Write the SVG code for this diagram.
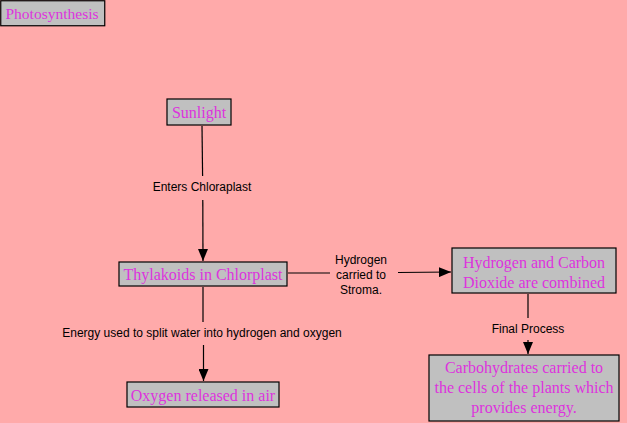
<svg xmlns="http://www.w3.org/2000/svg" width="627" height="423" viewBox="0 0 627 423">
<defs>
<marker id="ah" viewBox="0 0 12 10" refX="12" refY="5" markerWidth="12" markerHeight="10" markerUnits="userSpaceOnUse" orient="auto">
<path d="M0,0 L12,5 L0,10 Z" fill="#000"/>
</marker>
<style>
.box{fill:#c0c0c0;stroke:#000;stroke-width:1.2}
.nt{font-family:"Liberation Serif","Times New Roman",serif;font-size:16px;fill:#dd33dd;text-anchor:middle;dominant-baseline:central}
.lbl{font-family:"Liberation Sans",Arial,sans-serif;font-size:12px;fill:#000;text-anchor:middle;dominant-baseline:central}
.ln{stroke:#000;stroke-width:1.2;fill:none}
</style>
</defs>
<rect width="627" height="423" fill="#ffaaaa"/>
<g id="title">
<rect class="box" x="0.75" y="0.75" width="104" height="25"/>
<text class="nt" x="52" y="13" style="font-size:15.5px">Photosynthesis</text>
</g>
<g id="connectors">
<line class="ln" x1="202" y1="126" x2="202.6" y2="176"/>
<text class="lbl" x="202" y="187">Enters Chloraplast</text>
<line class="ln" x1="202.8" y1="200" x2="203" y2="261" marker-end="url(#ah)"/>
<line class="ln" x1="203" y1="287" x2="203" y2="322"/>
<text class="lbl" x="202" y="333">Energy used to split water into hydrogen and oxygen</text>
<line class="ln" x1="203.5" y1="345" x2="203.5" y2="381" marker-end="url(#ah)"/>
<line class="ln" x1="288" y1="273" x2="330" y2="273"/>
<text class="lbl" x="361" y="260">Hydrogen</text>
<text class="lbl" x="361" y="275">carried to</text>
<text class="lbl" x="361" y="290">Stroma.</text>
<line class="ln" x1="398" y1="272.5" x2="451" y2="272" marker-end="url(#ah)"/>
<line class="ln" x1="528" y1="294" x2="528" y2="318"/>
<text class="lbl" x="528" y="329">Final Process</text>
<line class="ln" x1="528" y1="340" x2="528" y2="354" marker-end="url(#ah)"/>
</g>
<g id="sunlight">
<rect class="box" x="167" y="99" width="64" height="26"/>
<text class="nt" x="199" y="112">Sunlight</text>
</g>
<g id="thylakoids">
<rect class="box" x="119" y="262" width="168" height="24"/>
<text class="nt" x="203" y="274">Thylakoids in Chlorplast</text>
</g>
<g id="hydrogen">
<rect class="box" x="452" y="248" width="164" height="45"/>
<text class="nt" x="534" y="262">Hydrogen and Carbon</text>
<text class="nt" x="534" y="282">Dioxide are combined</text>
</g>
<g id="carbohydrates">
<rect class="box" x="429" y="355" width="190" height="66"/>
<text class="nt" x="524" y="367">Carbohydrates carried to</text>
<text class="nt" x="524" y="387">the cells of the plants which</text>
<text class="nt" x="524" y="407">provides energy.</text>
</g>
<g id="oxygen">
<rect class="box" x="127" y="382" width="152" height="25"/>
<text class="nt" x="203" y="395">Oxygen released in air</text>
</g>
</svg>
